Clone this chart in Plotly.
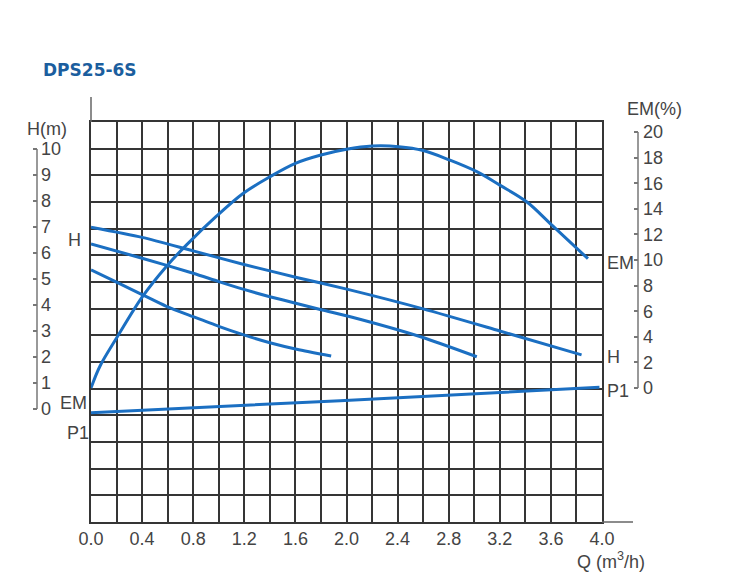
import plotly.graph_objects as go

# pump curve DPS25-6S
q_em = [0.0, 0.07, 0.2, 0.4, 0.59, 0.75, 0.98, 1.19, 1.4, 1.6, 1.8, 2.0,
        2.2, 2.41, 2.6, 2.81, 3.02, 3.2, 3.41, 3.61, 3.89]
em = [0.0, 1.7, 3.9, 7.1, 9.5, 11.2, 13.4, 15.2, 16.5, 17.55, 18.2, 18.65,
      18.9, 18.85, 18.55, 17.8, 16.9, 15.85, 14.55, 12.7, 10.1]

# head curves for the three speed settings
q_h3 = [0.0, 0.4, 0.8, 1.19, 1.61, 2.01, 2.6, 3.2, 3.84]
h3 = [6.99, 6.6, 6.08, 5.57, 5.06, 4.6, 3.85, 3.0, 2.08]
q_h2 = [0.0, 0.4, 0.8, 1.0, 1.19, 1.4, 1.61, 1.81, 2.03, 2.58, 3.02]
h2 = [6.35, 5.8, 5.22, 4.9, 4.61, 4.32, 4.06, 3.81, 3.55, 2.78, 2.01]
q_h1 = [0.0, 0.2, 0.4, 0.59, 0.8, 1.0, 1.19, 1.4, 1.61, 1.88]
h1 = [5.35, 4.88, 4.4, 3.95, 3.55, 3.18, 2.86, 2.55, 2.3, 2.04]

# P1 has no scale of its own, so it is read in grid rows (0 = bottom line)
q_p1 = [0.0, 1.95, 3.98]
p1 = [4.10, 4.55, 5.05]

h_ticks = list(range(0, 11))
em_ticks = list(range(0, 21, 2))
q_ticks = [0.0, 0.4, 0.8, 1.2, 1.6, 2.0, 2.4, 2.8, 3.2, 3.6, 4.0]

W, H = 730, 581
BLUE = "#1b6fc2"
GRID = "#353535"
TXT = "#444444"
FONT = "Liberation Sans, Arial, sans-serif"


def px(x):
    return x / W


def py(y):
    return 1 - y / H


fig = go.Figure()

line = dict(color=BLUE, width=3, shape="spline", smoothing=0.7)
fig.add_trace(go.Scatter(x=q_p1, y=p1, mode="lines", line=line))
fig.add_trace(go.Scatter(x=q_em, y=em, yaxis="y3", mode="lines",
                         line=dict(line, smoothing=1.0)))
for qq, hh in [(q_h3, h3), (q_h2, h2), (q_h1, h1)]:
    fig.add_trace(go.Scatter(x=qq, y=hh, yaxis="y2", mode="lines", line=line))

fig.update_layout(
    width=W, height=H,
    margin=dict(l=0, r=0, t=0, b=0),
    paper_bgcolor="white", plot_bgcolor="white",
    showlegend=False,
    font=dict(family=FONT, size=18, color=TXT),
    xaxis=dict(
        domain=[px(91), px(602)], range=[0, 4],
        tickvals=q_ticks, ticktext=["%.1f" % v for v in q_ticks],
        ticks="", showgrid=True, gridcolor=GRID, gridwidth=1.5,
        minor=dict(dtick=0.2, showgrid=True, gridcolor=GRID, gridwidth=1.5),
        showline=True, linecolor=GRID, linewidth=1.5, mirror=True,
        zeroline=False, automargin=False,
    ),
    yaxis=dict(
        domain=[py(522), py(122)], range=[0, 15], dtick=1,
        showticklabels=False, ticks="",
        showgrid=True, gridcolor=GRID, gridwidth=1.5,
        showline=True, linecolor=GRID, linewidth=1.5, mirror=True,
        zeroline=False, automargin=False,
    ),
    yaxis2=dict(
        overlaying="y", anchor="free", position=px(37), side="right",
        range=[-(522 - 409) / 26, 10 + (149 - 122) / 26],
        tickvals=h_ticks, ticks="inside", ticklen=4, tickwidth=1.5,
        tickcolor="#777777", ticklabelstandoff=3,
        showgrid=False, zeroline=False, showline=False, automargin=False,
    ),
    yaxis3=dict(
        overlaying="y", anchor="free", position=px(638), side="right",
        range=[-(522 - 388) / 12.8, 20 + (132 - 122) / 12.8],
        tickvals=em_ticks, ticks="inside", ticklen=4, tickwidth=1.5,
        tickcolor="#777777", ticklabelstandoff=4,
        showgrid=False, zeroline=False, showline=False, automargin=False,
    ),
)

# bracket lines of the two value scales
fig.add_shape(type="line", xref="paper", yref="y2", x0=px(37), x1=px(37),
              y0=0, y1=10, line=dict(color="#777777", width=1.5))
fig.add_shape(type="line", xref="paper", yref="y3", x0=px(638), x1=px(638),
              y0=0, y1=20, line=dict(color="#777777", width=1.5))
# axis stubs beyond the grid
fig.add_shape(type="line", xref="paper", yref="paper", x0=px(91), x1=px(91),
              y0=py(122), y1=py(97), line=dict(color="#666666", width=1.5))
fig.add_shape(type="line", xref="paper", yref="paper", x0=px(602), x1=px(633),
              y0=py(522), y1=py(522), line=dict(color="#666666", width=1.5))

labels = [
    ("H(m)", 25, 129), ("EM(%)", 625, 109),
    ("H", 66, 240), ("EM", 58, 403), ("P1", 65, 433),
    ("EM", 605, 263), ("H", 605, 357), ("P1", 605, 391),
    ("Q (m<sup>3</sup>/h)", 575, 560),
]
for text, x, y in labels:
    fig.add_annotation(text=text, xref="paper", yref="paper", x=px(x), y=py(y),
                       xanchor="left", yanchor="middle", showarrow=False,
                       font=dict(family=FONT, size=18, color=TXT))

fig.add_annotation(text="<b>DPS25-6S</b>", xref="paper", yref="paper",
                   x=px(41), y=py(70), xanchor="left", yanchor="middle",
                   showarrow=False,
                   font=dict(family="DejaVu Sans", size=17, color="#1b5e9e"))

fig.write_html("out.html", config={"displayModeBar": False},
               post_script="document.body.style.margin='0px';")
